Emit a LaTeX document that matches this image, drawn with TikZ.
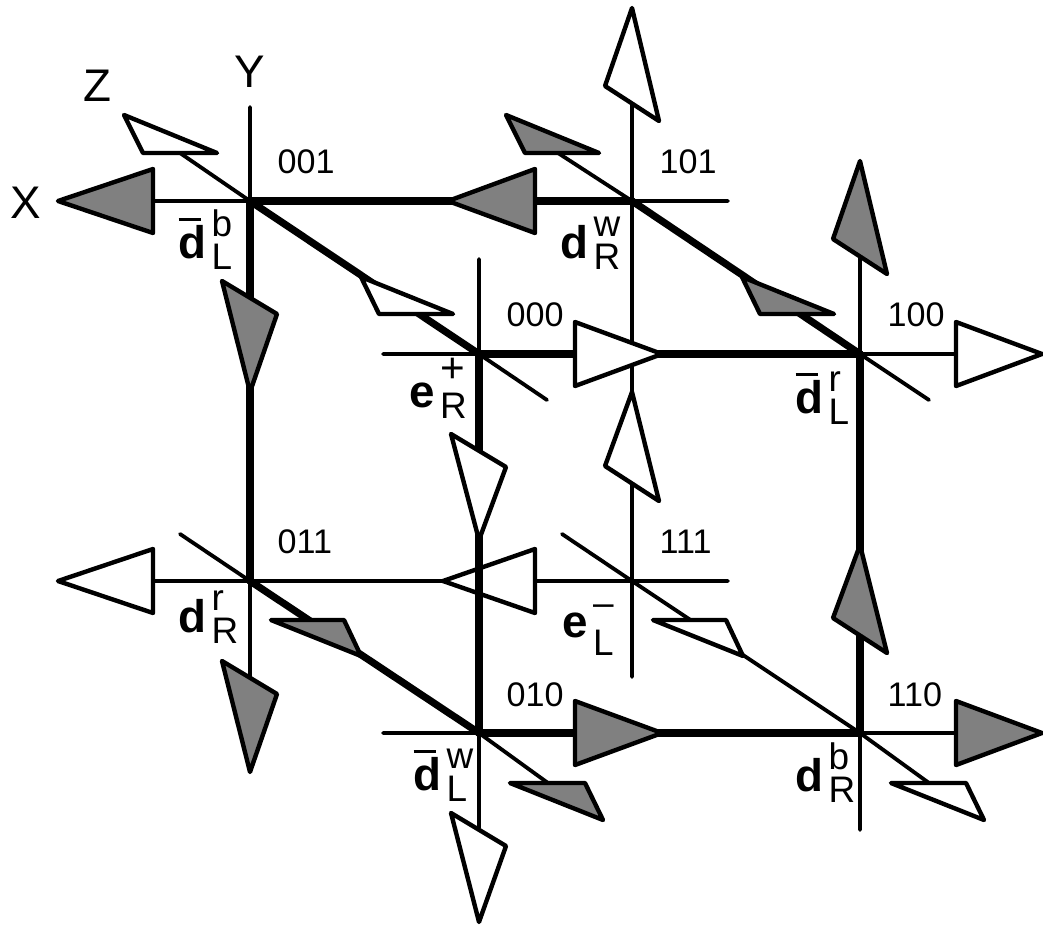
\documentclass[tikz,border=0pt]{standalone}
\usepackage{fontspec}
\setmainfont{Liberation Sans}
\usepackage{xcolor}
\definecolor{cShade}{RGB}{128,128,128}
\newcommand{\dbar}{\rlap{\rule[10.4pt]{6.4pt}{1.1pt}}d}
\newcommand{\quark}[3]{{\fontsize{13}{13}\selectfont\bfseries #1}\hspace{1.4pt}\rlap{\raisebox{6pt}{\fontsize{10.5}{10.5}\selectfont #2}}\raisebox{-3.4pt}{\fontsize{10.5}{10.5}\selectfont #3}}
\tikzset{
	axisline/.style ={line width=0.038cm, line cap=round},
	edgeline/.style ={line width=0.072cm, line cap=round},
	headline/.style ={line width=0.044cm, line join=round},
	headgray/.style ={fill=cShade},
	headwhite/.style={fill=white},
	code/.style     ={inner sep=0pt, anchor=base west, font=\fontsize{9.7}{10}\selectfont},
	spin/.style     ={inner sep=0pt, anchor=base west},
	axisname/.style ={inner sep=0pt, font=\fontsize{13}{13}\selectfont},
	% arrow heads, the argument is how far the tip stands from the corner
	pics/headleft/.style ={code={\draw[headline, pic actions] (-#1,0) -- (-97,-32) -- (-97,32) -- cycle;}},
	pics/headright/.style={code={\draw[headline, pic actions] (#1,0) -- (96,-32) -- (96,32) -- cycle;}},
	pics/headup/.style   ={code={\draw[headline, pic actions] (0,-#1) -- (-27,-115) -- (27,-80) -- cycle;}},
	pics/headdown/.style ={code={\draw[headline, pic actions] (0,#1) -- (-28,80) -- (27,113) -- cycle;}},
	% heads along the slanted axis, near and far from the corner
	pics/zfarback/.style ={code={\draw[headline, pic actions] (-126,-86) -- (-33,-48) -- (-107,-48) -- cycle;}},
	pics/zfarfront/.style={code={\draw[headline, pic actions] (124,87) -- (31,50) -- (106,50) -- cycle;}},
	pics/znearback/.style ={code={\draw[headline, pic actions] (-118,-77) -- (-26,-40) -- (-100,-40) -- cycle;}},
	pics/znearfront/.style={code={\draw[headline, pic actions] (111,75) -- (21,39) -- (94,39) -- cycle;}},
}
\begin{document}
\begin{tikzpicture}[x=0.01cm, y=-0.01cm]
	\useasboundingbox (0,0) rectangle (1043,924);
	% cube corners
	\coordinate (v001) at (250,201); \coordinate (v101) at (632,201);
	\coordinate (v000) at (479,354); \coordinate (v100) at (860,354);
	\coordinate (v011) at (250,581); \coordinate (v111) at (632,581);
	\coordinate (v010) at (479,733); \coordinate (v110) at (860,733);
	% free ends of the axes
	\coordinate (x001) at (153,201); \coordinate (y001) at (250,107); \coordinate (z001) at (180,153);
	\coordinate (x101) at (728,201); \coordinate (y101) at (632,105); \coordinate (z101) at (558,153);
	\coordinate (x000) at (383,354); \coordinate (y000) at (479,259); \coordinate (z000) at (547,400);
	\coordinate (x100) at (955,354); \coordinate (y100) at (860,258); \coordinate (z100) at (929,400);
	\coordinate (x011) at (153,581); \coordinate (y011) at (250,677); \coordinate (z011) at (180,534);
	\coordinate (x111) at (728,581); \coordinate (y111) at (632,677); \coordinate (z111) at (562,534);
	\coordinate (x010) at (383,733); \coordinate (y010) at (479,828); \coordinate (z010) at (548,783);
	\coordinate (x110) at (955,733); \coordinate (y110) at (860,830); \coordinate (z110) at (929,783);
	\draw[axisline] (v001) -- (x001) (v001) -- (y001) (v001) -- (z001);
	\draw[axisline] (v101) -- (x101) (v101) -- (y101) (v101) -- (z101);
	\draw[axisline] (v000) -- (x000) (v000) -- (y000) (v000) -- (z000);
	\draw[axisline] (v100) -- (x100) (v100) -- (y100) (v100) -- (z100);
	\draw[axisline] (v011) -- (x011) (v011) -- (y011) (v011) -- (z011);
	\draw[axisline] (v111) -- (x111) (v111) -- (y111) (v111) -- (z111);
	\draw[axisline] (v010) -- (x010) (v010) -- (y010) (v010) -- (z010);
	\draw[axisline] (v110) -- (x110) (v110) -- (y110) (v110) -- (z110);
	\draw[axisline] (v011) -- (v111); \draw[axisline] (v101) -- (v111); \draw[axisline] (v111) -- (v110);
	\pic[headwhite] at (v111) {headleft=189};
	% thick edges
	\draw[edgeline] (v001) -- (v101); \draw[edgeline] (v000) -- (v100); \draw[edgeline] (v010) -- (v110);
	\draw[edgeline] (v001) -- (v011); \draw[edgeline] (v000) -- (v010); \draw[edgeline] (v100) -- (v110);
	\draw[edgeline] (v001) -- (v000); \draw[edgeline] (v101) -- (v100); \draw[edgeline] (v011) -- (v010);
	% heads along X
	\pic[headgray] at (v001) {headleft=192};
	\pic[headgray] at (v101) {headleft=184};
	\pic[headwhite] at (v011) {headleft=192};
	\pic[headwhite] at (v000) {headright=183};
	\pic[headwhite] at (v100) {headright=182};
	\pic[headgray] at (v010) {headright=183};
	\pic[headgray] at (v110) {headright=182};
	% heads along Y
	\pic[headwhite] at (v101) {headup=193};
	\pic[headgray] at (v100) {headup=193};
	\pic[headwhite] at (v111) {headup=189};
	\pic[headgray] at (v110) {headup=188};
	\pic[headgray] at (v001) {headdown=191};
	\pic[headwhite] at (v000) {headdown=186};
	\pic[headgray] at (v011) {headdown=191};
	\pic[headwhite] at (v010) {headdown=189};
	% heads along Z
	\pic[headwhite] at (v001) {zfarback};
	\pic[headgray] at (v101) {zfarback};
	\pic[headwhite] at (v000) {znearback};
	\pic[headgray] at (v100) {znearback};
	\pic[headgray] at (v011) {znearfront};
	\pic[headwhite] at (v111) {znearfront};
	\pic[headgray] at (v010) {zfarfront};
	\pic[headwhite] at (v110) {zfarfront};
	% axis names
	\node[axisname] (nameX) at (26,203) {X};
	\node[axisname] (nameY) at (250,72) {Y};
	\node[axisname] (nameZ) at (97,86) {Z};
	% corner codes
	\node[code] (c001) at (277,173) {001};
	\node[code] (c101) at (659,173) {101};
	\node[code] (c000) at (506,326) {000};
	\node[code] (c100) at (887,326) {100};
	\node[code] (c011) at (277,553) {011};
	\node[code] (c111) at (659,553) {111};
	\node[code] (c010) at (506,706) {010};
	\node[code] (c110) at (887,706) {110};
	% particle names
	\node[spin] (p001) at (178,258) {\quark{\dbar}{b}{L}};
	\node[spin] (p101) at (560,258) {\quark{d}{w}{R}};
	\node[spin] (p000) at (409,407) {\quark{e}{\raisebox{1pt}{\fontsize{12}{12}\selectfont +}}{R}};
	\node[spin] (p100) at (795,413) {\quark{\dbar}{r}{L}};
	\node[spin] (p011) at (178,632) {\quark{d}{r}{R}};
	\node[spin] (p111) at (562,637) {\quark{e}{--}{\raisebox{-1.8pt}{L}}};
	\node[spin] (p010) at (413,790) {\quark{\dbar}{w}{L}};
	\node[spin] (p110) at (795,791) {\quark{d}{b}{R}};
\end{tikzpicture}
\end{document}
